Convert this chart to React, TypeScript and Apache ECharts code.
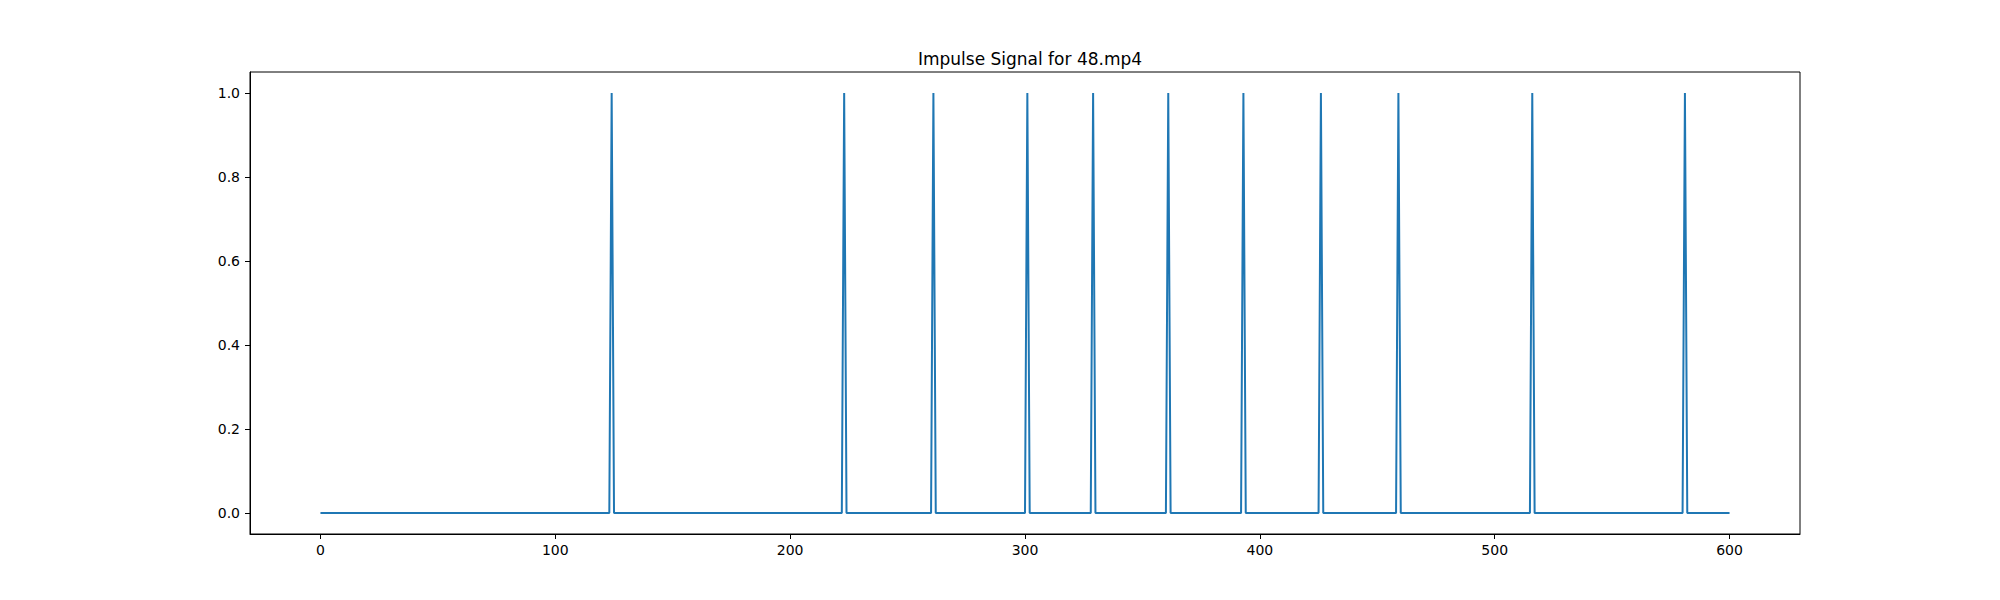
import React, { useEffect, useRef } from "react";
import * as echarts from "echarts";

// Signal length (sample indices 0..600) and positions of impulses (value 1.0)
const sampleCount = 601;
const impulseIndices = [124, 223, 261, 301, 329, 361, 393, 426, 459, 516, 581];
const impulseValue = 1.0;
const baselineValue = 0.0;

const xTicks = [0, 100, 200, 300, 400, 500, 600];
const yTicks = [0.0, 0.2, 0.4, 0.6, 0.8, 1.0];
const titleText = "Impulse Signal for 48.mp4";

export default function App() {
  const ref = useRef<HTMLDivElement>(null);

  useEffect(() => {
    if (!ref.current) return;
    const chart = echarts.init(ref.current, undefined, { renderer: "svg" });
    const spikes = new Set(impulseIndices);
    const data: [number, number][] = [];
    for (let i = 0; i < sampleCount; i++) {
      data.push([i, spikes.has(i) ? impulseValue : baselineValue]);
    }
    const font = "DejaVu Sans";
    chart.setOption({
      animation: false,
      backgroundColor: "#ffffff",
      title: {
        text: titleText,
        left: 1025,
        top: 45,
        textAlign: "center",
        textStyle: { fontFamily: font, fontSize: 17, fontWeight: "normal", color: "#000" },
      },
      grid: {
        left: 250,
        right: 200,
        top: 72,
        bottom: 66,
        show: true,
        borderColor: "#000",
        borderWidth: 1,
        containLabel: false,
      },
      xAxis: {
        type: "value",
        min: -30,
        max: 630,
        splitLine: { show: false },
        axisLine: { show: true, onZero: false, lineStyle: { color: "#000", width: 1 } },
        axisTick: {
          show: true,
          inside: false,
          length: 5,
          lineStyle: { color: "#000", width: 1 },
          customValues: xTicks,
        },
        axisLabel: {
          show: true,
          margin: 9,
          fontFamily: font,
          fontSize: 14,
          color: "#000",
          customValues: xTicks,
          formatter: (v: number) => String(v),
        },
      },
      yAxis: {
        type: "value",
        min: -0.05,
        max: 1.05,
        splitLine: { show: false },
        axisLine: { show: true, onZero: false, lineStyle: { color: "#000", width: 1 } },
        axisTick: {
          show: true,
          inside: false,
          length: 5,
          lineStyle: { color: "#000", width: 1 },
          customValues: yTicks,
        },
        axisLabel: {
          show: true,
          margin: 10,
          fontFamily: font,
          fontSize: 14,
          color: "#000",
          customValues: yTicks,
          formatter: (v: number) => v.toFixed(1),
        },
      },
      series: [
        {
          type: "line",
          data,
          showSymbol: false,
          symbol: "none",
          lineStyle: { color: "#1f77b4", width: 2 },
          itemStyle: { color: "#1f77b4" },
        },
      ],
    });
    return () => chart.dispose();
  }, []);

  return (
    <div
      ref={ref}
      style={{ position: "fixed", left: 0, top: 0, width: 2000, height: 600 }}
    />
  );
}
